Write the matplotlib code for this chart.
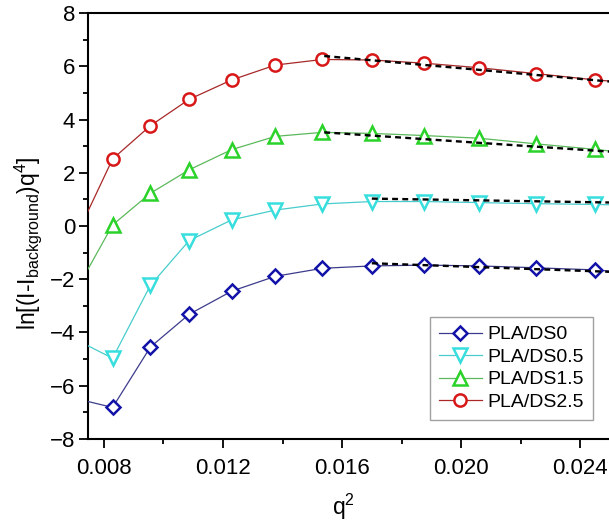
import matplotlib
matplotlib.use("Agg")
import matplotlib.pyplot as plt

plt.rcParams['font.family'] = ['Liberation Sans', 'DejaVu Sans']
plt.rcParams['mathtext.fontset'] = 'custom'
plt.rcParams['mathtext.rm'] = 'Liberation Sans'
plt.rcParams['mathtext.it'] = 'Liberation Sans'

# q^2 positions of the scattering points
q2 = [0.00714, 0.00829, 0.00956, 0.01086, 0.01229, 0.01376, 0.01534,
      0.01701, 0.01876, 0.02060, 0.02250, 0.02451, 0.02660]

ds0 = [-6.51, -6.82, -4.55, -3.32, -2.45, -1.89, -1.59,
       -1.50, -1.47, -1.50, -1.57, -1.65, -1.85]
ds05 = [-4.32, -4.97, -2.23, -0.55, 0.23, 0.60, 0.83,
        0.92, 0.92, 0.88, 0.84, 0.81, 0.76]
ds15 = [-2.27, 0.04, 1.23, 2.11, 2.87, 3.37, 3.52,
        3.48, 3.40, 3.30, 3.09, 2.88, 2.62]
ds25 = [-0.21, 2.52, 3.77, 4.76, 5.49, 6.05, 6.26,
        6.24, 6.12, 5.95, 5.73, 5.49, 5.31]

# linear fits over the high-q region (start, end)
fit_x = {
    'PLA/DS0': [0.0170, 0.0252],
    'PLA/DS0.5': [0.0170, 0.0252],
    'PLA/DS1.5': [0.0154, 0.0252],
    'PLA/DS2.5': [0.0154, 0.0252],
}
fit_y = {
    'PLA/DS0': [-1.40, -1.73],
    'PLA/DS0.5': [1.03, 0.88],
    'PLA/DS1.5': [3.52, 2.78],
    'PLA/DS2.5': [6.39, 5.41],
}

series = [
    ('PLA/DS0', ds0, 'D', 6.8, '#1212a8', '#3c3c8c'),
    ('PLA/DS0.5', ds05, 'v', 9.5, '#38dede', '#48cccc'),
    ('PLA/DS1.5', ds15, '^', 9.5, '#2ad22a', '#5cb85c'),
    ('PLA/DS2.5', ds25, 'o', 8.8, '#d81818', '#a82828'),
]

fig = plt.figure(figsize=(6.09, 5.27), dpi=100)
ax = fig.add_axes([0.1453, 0.1673, 0.866, 0.8077])

for name, ys, mk, ms, mc, lc in series:
    ax.plot(q2, ys, color=lc, lw=0.9, marker=mk, markersize=ms,
            markerfacecolor='white', markeredgecolor=mc, markeredgewidth=1.8,
            label=name, zorder=3)

for name, ys, mk, ms, mc, lc in series:
    ax.plot(fit_x[name], fit_y[name], color='black', lw=1.7,
            linestyle=(0, (2.5, 1.8)), zorder=4)

ax.set_xlim(0.00748, 0.0252)
ax.set_ylim(-8, 8)

ax.set_xticks([0.008, 0.012, 0.016, 0.020, 0.024])
ax.set_xticklabels(['0.008', '0.012', '0.016', '0.020', '0.024'])
ax.set_xticks([0.010, 0.014, 0.018, 0.022], minor=True)
ax.set_yticks([-8, -6, -4, -2, 0, 2, 4, 6, 8])
ax.set_yticks([-7, -5, -3, -1, 1, 3, 5, 7], minor=True)

ax.tick_params(which='both', direction='out', width=1.3, labelsize=16,
               top=False, right=False)
ax.tick_params(which='major', length=6.5, pad=3)
ax.tick_params(which='minor', length=3.5)
ax.tick_params(axis='x', pad=7)

for sp in ax.spines.values():
    sp.set_linewidth(1.5)

ax.set_xlabel(r'q$^2$', fontsize=16.5)
ax.xaxis.set_label_coords(0.483, -0.125)
ax.set_ylabel(r'ln[(I-I$_{\rm background}$)q$^4$]', fontsize=16.5)
ax.yaxis.set_label_coords(-0.085, 0.46)

leg = ax.legend(loc='upper left', bbox_to_anchor=(0.648, 0.286),
                fontsize=14, frameon=True, fancybox=False,
                edgecolor='#8a8a8a', handlelength=2.2, handletextpad=0.3,
                labelspacing=0.25, borderpad=0.45, borderaxespad=0)
leg.get_frame().set_linewidth(1.0)

fig.savefig('out.png', dpi=100)
